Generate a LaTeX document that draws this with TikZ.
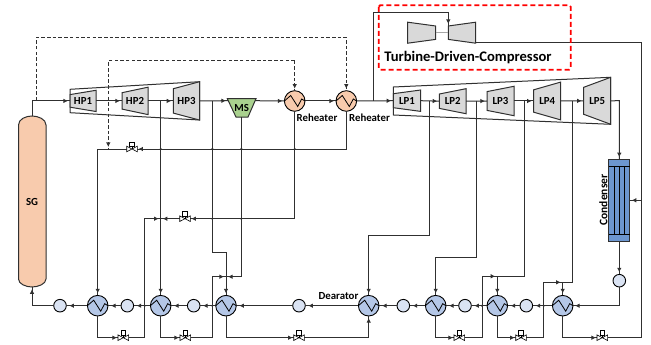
\documentclass[tikz,border=0pt]{standalone}
\usepackage{fontspec}
\setmainfont{Carlito}
\usepackage{xcolor}
\usetikzlibrary{arrows.meta,decorations.markings}
\definecolor{pipegray}{HTML}{303030}
\definecolor{sgorange}{HTML}{F8CBAD}
\definecolor{fwhblue}{HTML}{B4C7E7}
\definecolor{pumpblue}{HTML}{DAE3F3}
\definecolor{condblue}{HTML}{6C96CF}
\definecolor{msgreen}{HTML}{A9D18E}
\definecolor{turbgray}{HTML}{D9D9D9}
\tikzset{
  pipe/.style={draw=pipegray,line width=1pt},
  signal/.style={pipe,dashed,line width=0.9pt,dash pattern=on 3.5pt off 2.2pt},
  flow/.style={postaction={decorate,decoration={markings,
    mark=at position #1 with {\arrow{Latex[length=4.6pt,width=4.6pt]}}}}},
  flow/.default=-2pt,
  lab/.style={font=\fontsize{10.8}{12}\selectfont\bfseries,inner sep=0pt},
  turbname/.style={lab,minimum height=10pt,outer sep=0pt},
  heater/.style={circle,draw=black,line width=0.9pt,minimum size=20.6pt,inner sep=0pt,outer sep=0pt},
  pump/.style={circle,draw=black,line width=0.9pt,fill=pumpblue,minimum size=12.6pt,inner sep=0pt,outer sep=0pt},
  valve/.style={minimum width=10.6pt,minimum height=6pt,inner sep=0pt,outer sep=0pt},
}
\newcommand{\valvesym}[1]{%
  \draw[line width=0.6pt,fill=white] ([shift={(-5.3,-2.8)}]#1.center) -- ([shift={(5.3,2.8)}]#1.center)
    -- ([shift={(5.3,-2.8)}]#1.center) -- ([shift={(-5.3,2.8)}]#1.center) -- cycle;
  \draw[line width=0.6pt] (#1.center) -- ([shift={(0,-3)}]#1.center);
  \draw[line width=0.6pt,fill=white] ([shift={(-2.3,-7.2)}]#1.center) rectangle ([shift={(2.3,-2.8)}]#1.center);
}
\begin{document}
\begin{tikzpicture}[x=1pt,y=-1pt]
  \useasboundingbox (0,0) rectangle (651,345);

  % casings
  \draw[pipe] (70,89.3) -- (199.7,81.7) -- (199.7,120) -- (70,112.7) -- cycle;
  \draw[pipe] (393.3,87) -- (610.7,77.3) -- (610.7,124.3) -- (393.3,115) -- cycle;

  % turbines
  \foreach \name/\xl/\xr/\yc/\hl/\hr/\txt in {
    hp1/70/96/100.9/6.3/10.6/HP1,
    hp2/122/148/100.9/8.2/13.7/HP2,
    hp3/173.3/199.7/100.9/12.2/19.2/HP3,
    lp1/393.3/420.7/100.7/7/10.7/LP1,
    lp2/439.3/466/101.2/7.2/12.5/LP2,
    lp3/487/514/101/9.4/14.7/LP3,
    lp4/533.7/560.7/101/11.2/18.9/LP4,
    lp5/583.7/610.7/100.8/13.5/23.5/LP5,
    tdc/407.7/435.7/32.7/10.5/6.7/{},
    tdt/448.3/475.7/32.7/6.7/10.5/{}}{
    \draw[pipe,fill=turbgray] (\xl,\yc-\hl) -- (\xr,\yc-\hr) -- (\xr,\yc+\hr) -- (\xl,\yc+\hl) -- cycle;
    \pgfmathsetmacro{\xm}{(\xl+\xr)/2}
    \pgfmathsetmacro{\xw}{\xr-\xl}
    \node[turbname,minimum width=\xw pt] (\name) at (\xm,\yc) {\txt};
  }
  \draw[line width=1.4pt,draw=gray!70] (tdc.east) -- (tdt.west);

  % steam generator
  \draw[pipe,fill=sgorange] (18.5,125) .. controls (18.5,119) and (26,116) .. (32,116)
    .. controls (38,116) and (46,119) .. (46,125) -- (46,279)
    .. controls (46,284) and (38,287) .. (32,287)
    .. controls (26,287) and (18.5,284) .. (18.5,279) -- cycle;
  \node[lab,minimum width=27.5pt,minimum height=171pt] (sg) at (32,201.5) {SG};

  % moisture separator
  \draw[pipe,fill=msgreen] (227.3,98.7) -- (256,98.7) -- (248,117) -- (236,117) -- cycle;
  \node[lab,minimum width=12pt,minimum height=18.3pt] (ms) at (241.7,107.8) {MS};
  \coordinate (msin) at (228,100.7);
  \coordinate (msout) at (255,100.7);

  % reheaters and heaters
  \node[heater,fill=sgorange] (rh1) at (294.7,101) {};
  \node[heater,fill=sgorange] (rh2) at (346.3,101) {};
  \foreach \name/\x in {fwh1/97.7,fwh2/160.7,fwh3/226,fwh4/368.7,fwh5/435.7,fwh6/497.3,fwh7/562.7}
    \node[heater,fill=fwhblue] (\name) at (\x,305.7) {};
  \foreach \name/\x in {pump1/60,pump2/127.3,pump3/193.7,pump4/299,pump5/403.3,pump6/465,pump7/526.3}
    \node[pump] (\name) at (\x,305.7) {};
  \node[pump] (pump8) at (619.3,280.7) {};

  % condenser
  \node[draw=pipegray,line width=1pt,fill=condblue,minimum width=20.7pt,minimum height=82pt,inner sep=0pt,outer sep=0pt] (cond) at (619.3,200.3) {};
  \draw[line width=0.7pt] (609,166) -- (629.7,166) (609,234.3) -- (629.7,234.3);
  \foreach \x in {614.3,619.3,624.7}
    \draw[line width=0.7pt] (\x,166) -- (\x,234.3);

  % valves
  \node[valve] (vtop) at (132,149) {};
  \node[valve] (vmid) at (185,218.7) {};
  \foreach \name/\x in {vb1/123.3,vb2/185.3,vb3/299,vb5/459.3,vb6/521,vb7/602.3}
    \node[valve] (\name) at (\x,337.7) {};

  % junctions
  \coordinate (jsg) at (36.3,100.7);
  \coordinate (jhp2) at (160.7,100.7);
  \coordinate (jhp3) at (212.3,100.7);
  \coordinate (jrh) at (373.7,101);
  \coordinate (jlp1) at (429.7,100.7);
  \coordinate (jlp2) at (476.3,100.7);
  \coordinate (jlp3) at (524,100.7);
  \coordinate (jlp4) at (572,100.7);
  \coordinate (jdrain) at (108.3,149);
  \coordinate (jfwh2) at (160.7,218.7);
  \coordinate (jfwh3) at (226,276.7);
  \coordinate (jfwh6) at (497.3,276.3);
  \coordinate (jfwh7) at (562.7,282.3);
  \coordinate (kink3) at (226,252.3);
  \coordinate (kink4) at (368.7,235.3);
  \coordinate (kink5) at (435.7,257);
  \coordinate (railb1) at (144.7,337.7);
  \coordinate (railb2) at (212.3,337.7);
  \coordinate (railb5) at (482,337.7);
  \coordinate (railb6) at (543.7,337.7);
  \coordinate (railb7) at (641.7,337.7);
  \coordinate (railtd) at (641.7,42.7);
  \coordinate (railcd) at (641.7,200.3);
  \coordinate (tdin) at (448.3,26);
  \coordinate (tdtop) at (448.3,12.7);
  \coordinate (tdout) at (475.7,42.7);
  \coordinate (lp5out) at (619.3,100.7);
  \coordinate (sigout) at (346.3,37.3);
  \coordinate (sigin) at (294.7,60.7);

  % steam side
  \draw[pipe,flow] (sg.north) |- (hp1.west);
  \draw[pipe,flow] (hp1.east) -- (hp2.west);
  \draw[pipe,flow] (hp2.east) -- (hp3.west);
  \draw[pipe,flow] (hp3.east) -- (msin);
  \draw[pipe,flow] (msout) -- (rh1.west);
  \draw[pipe,flow] (rh1.east) -- (rh2.west);
  \draw[pipe,flow] (rh2.east) -- (lp1.west);
  \foreach \a/\b in {lp1/lp2,lp2/lp3,lp3/lp4,lp4/lp5}
    \draw[pipe,flow] (\a.east) -- (\b.west);
  \draw[pipe,flow] (lp5.east) -- (lp5out) -- (cond.north);
  \draw[pipe,flow] (jrh) |- (tdtop) -- (tdin);
  \draw[signal,flow] (jsg) |- (sigout) -- (rh2.north);
  \draw[signal,line width=1.1pt,flow] (sigin) -| (jdrain);
  \draw[signal,line width=1.1pt,flow] (sigin) -- (rh1.north);

  % extractions
  \draw[pipe,flow] (jhp2) -- (fwh2.north);
  \draw[pipe,flow] (jhp3) |- (kink3) -- (fwh3.north);
  \draw[pipe] (jlp1) |- (kink4);
  \draw[pipe,flow] (kink4) -- (fwh4.north);
  \draw[pipe] (jlp2) |- (kink5);
  \draw[pipe,flow] (kink5) -- (fwh5.north);
  \draw[pipe] (jlp3) |- (jfwh6);
  \draw[pipe,flow] (jfwh6) -- (fwh6.north);
  \draw[pipe] (jlp4) |- (jfwh7);
  \draw[pipe,flow] (jfwh7) -- (fwh7.north);

  % drains
  \draw[pipe,flow=-1pt] (rh2.south) |- (vtop.east);
  \draw[pipe,flow] (vtop.west) -| (fwh1.north);
  \draw[pipe,flow=-1pt] (rh1.south) |- (vmid.east);
  \draw[pipe,flow] (vmid.west) -- (jfwh2);
  \draw[pipe,flow] (ms.south) |- (jfwh3);
  \draw[pipe,flow=-1pt] (fwh1.south) |- (vb1.west);
  \draw[pipe] (vb1.east) -- (railb1);
  \draw[pipe,flow] (railb1) |- (jfwh2);
  \draw[pipe,flow=-1pt] (fwh2.south) |- (vb2.west);
  \draw[pipe] (vb2.east) -- (railb2);
  \draw[pipe,flow] (railb2) |- (jfwh3);
  \draw[pipe,flow=-1pt] (fwh3.south) |- (vb3.west);
  \draw[pipe,flow] (vb3.east) -| (fwh4.south);
  \draw[pipe,flow=-1pt] (fwh5.south) |- (vb5.west);
  \draw[pipe] (vb5.east) -- (railb5);
  \draw[pipe,flow] (railb5) |- (jfwh6);
  \draw[pipe,flow=-1pt] (fwh6.south) |- (vb6.west);
  \draw[pipe] (vb6.east) -- (railb6);
  \draw[pipe,flow] (railb6) |- (jfwh7);
  \draw[pipe,flow=-1pt] (fwh7.south) |- (vb7.west);
  \draw[pipe] (vb7.east) -- (railb7) -- (railtd) -- (tdout);
  \draw[pipe,flow] (railcd) -- (cond.east);

  % feedwater
  \draw[pipe,flow] (cond.south) -- (pump8.north);
  \draw[pipe,flow] (pump8.south) |- (fwh7.east);
  \foreach \a/\b in {fwh7/pump7,pump7/fwh6,fwh6/pump6,pump6/fwh5,fwh5/pump5,pump5/fwh4,
    fwh4/pump4,pump4/fwh3,fwh3/pump3,pump3/fwh2,fwh2/pump2,pump2/fwh1,fwh1/pump1}
    \draw[pipe,flow=-3pt] (\a.west) -- (\b.east);
  \draw[pipe,flow] (pump1.west) -| (sg.south);

  % crossings
  \foreach \x/\y in {160.7/149,212.3/149,241.3/149,294.7/149,212.3/218.7,241.3/218.7,212.3/305.7,144.7/305.7,482/305.7,543.7/305.7}
    \fill[pipegray] (\x,\y) circle[radius=1.2];

  % zigzags
  \foreach \h in {rh1,rh2,fwh1,fwh2,fwh3,fwh4,fwh5,fwh6,fwh7}
    \draw[line width=0.8pt] (\h.west) -- ([shift={(-4,-5.5)}]\h.center) -- ([shift={(3,5.5)}]\h.center)
      -- ([shift={(7,-2)}]\h.center) -- (\h.east);
  \foreach \v in {vtop,vmid,vb1,vb2,vb3,vb5,vb6,vb7}{
    \valvesym{\v}
  }

  % labels
  \node[lab] (rh1lab) at (317,117.7) {Reheater};
  \node[lab] (rh2lab) at (369.5,117.7) {Reheater};
  \node[lab] (dealab) at (338.5,295.7) {Dearator};
  \node[lab,rotate=90,font=\fontsize{11.5}{14}\selectfont\bfseries] (condlab) at (603.3,200) {Condenser};
  \node[lab,font=\fontsize{14.6}{16}\selectfont\bfseries] (tdclab) at (468,57.7) {Turbine-Driven-Compressor};
  \draw[red,line width=1.8pt,dash pattern=on 5pt off 3pt,rounded corners=1.5pt] (378.7,5.3) rectangle (570.7,69.7);
\end{tikzpicture}
\end{document}
